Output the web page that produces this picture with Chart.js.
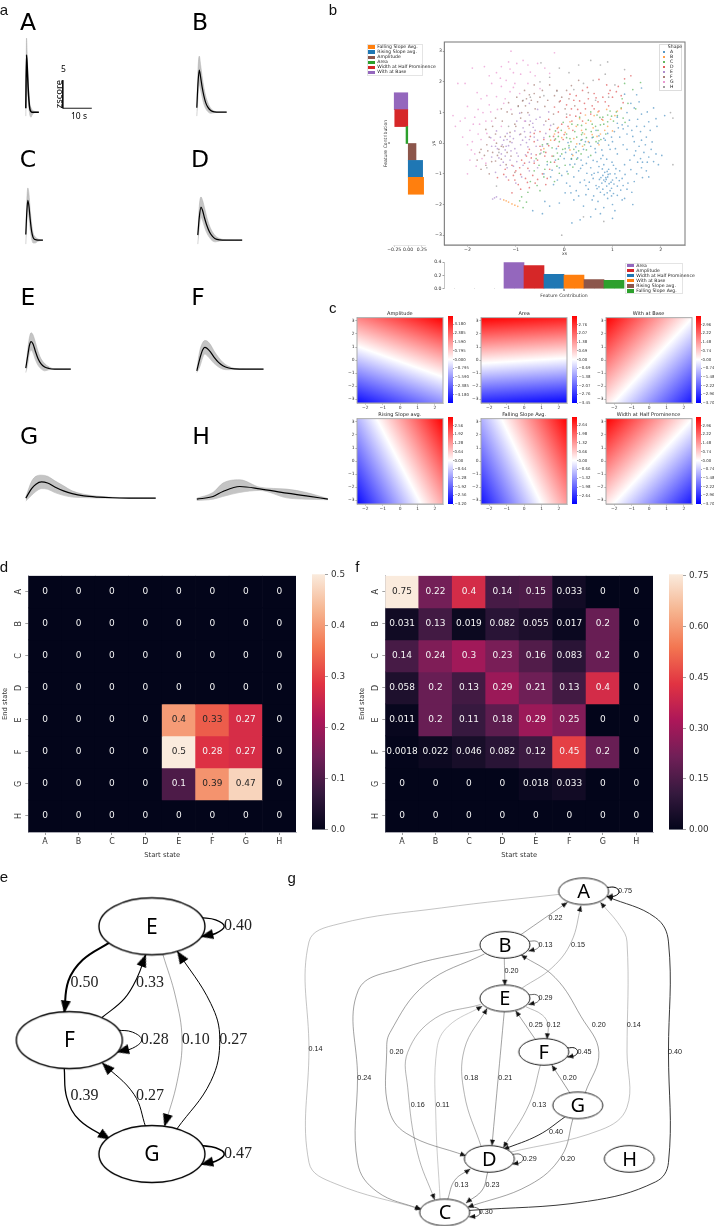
<!DOCTYPE html>
<html>
<head>
<meta charset="utf-8">
<title>Event shapes and transitions</title>
<script src="https://cdn.jsdelivr.net/npm/chart.js@4"></script>
<style>
  html, body { margin: 0; padding: 0; background: #fff; }
  #page { position: relative; width: 714px; height: 1232px; overflow: hidden; background: #fff; }
  #page canvas { position: absolute; }
  .t { position: absolute; white-space: nowrap; line-height: 1; color: #222; }
</style>
</head>
<body>
<div id="page"></div>
<script>
// ---------- data ----------
const stateNames = ['A', 'B', 'C', 'D', 'E', 'F', 'G', 'H'];

// panel a: time (s), mean, upper and lower band (zscore)
const traceT = {
  A: [0, .25, .5, .8, 1.1, 1.4, 1.8, 2.2, 3, 4.5],
  B: [0, .4, .85, 1.3, 1.8, 2.4, 3, 3.8, 4.8, 6, 8, 10.3],
  C: [0, .35, .7, 1.1, 1.5, 2, 2.5, 3.2, 4.2, 5.9],
  D: [0, .5, 1.1, 1.7, 2.3, 3, 4, 5, 6, 7.5, 10, 15.3],
  E: [0, .7, 1.2, 1.83, 2.5, 3.3, 4.2, 5.2, 6.5, 8, 10, 15.5],
  F: [0, 1, 2, 2.75, 3.6, 4.8, 6, 7.5, 9, 11, 13, 17, 23],
  G: [0, 2, 3.5, 5.4, 7.5, 10, 13, 16, 20, 25, 30, 36, 44.8],
  H: [0, 5.6, 9, 14.8, 21.7, 31, 37.7, 45.2]
};
const traceMean = {
  A: [.7, 10.2, 8, 4.5, 2, .6, .1, 0, 0, 0],
  B: [.8, 5, 7.5, 6.3, 4.6, 3, 1.8, .9, .3, .05, 0, 0],
  C: [1, 5, 7.1, 6, 3.8, 1.6, .5, .1, 0, 0],
  D: [.9, 4, 5.9, 5.2, 4, 2.8, 1.5, .7, .25, .05, 0, 0],
  E: [.2, 2.5, 4.1, 4.9, 4.5, 3.2, 1.9, 1, .4, .12, 0, 0],
  F: [-.3, 1.8, 3.4, 3.9, 3.7, 3, 2.1, 1.2, .6, .2, .05, 0, 0],
  G: [0, 1.7, 2.5, 2.9, 2.7, 2, 1.3, .8, .4, .18, .07, .02, 0],
  H: [0, .48, 1.37, 2.26, 1.85, 1.07, .6, 0]
};
const traceUpper = {
  A: [.7, 13.2, 10, 6, 3, 1.4, .8, .4, .15, 0],
  B: [1, 7.5, 10, 8.5, 6.5, 4.5, 3, 1.7, .7, .2, 0, 0],
  C: [1, 7, 9.3, 8.2, 5.5, 3, 1.3, .6, .2, 0],
  D: [1, 6, 7.7, 7, 5.8, 4.3, 2.6, 1.5, .8, .3, .05, 0],
  E: [.3, 3.6, 5.5, 6.5, 6.1, 4.8, 3.2, 1.9, 1, .4, .05, 0],
  F: [0, 3.2, 4.7, 5.1, 5, 4.3, 3.2, 2.1, 1.2, .5, .15, .03, 0],
  G: [.2, 3, 3.9, 4.1, 3.9, 3.1, 2.2, 1.3, .7, .35, .15, .05, 0],
  H: [.18, 1.2, 2.86, 3.45, 2.14, 1.79, 1.2, .1]
};
const traceLower = {
  A: [-.7, 7.5, 5.5, 2.5, .6, -.5, -.9, -.5, -.1, 0],
  B: [-.7, 2.5, 5, 4, 2.8, 1.5, .7, .1, -.2, -.1, 0, 0],
  C: [-.7, 3, 5, 4, 2, .3, -.5, -.5, -.2, 0],
  D: [-.7, 2.2, 4.1, 3.4, 2.4, 1.4, .5, -.1, -.3, -.15, 0, 0],
  E: [-.6, 1, 2.7, 3.4, 2.9, 1.7, .7, .1, -.3, -.1, 0, 0],
  F: [-.6, .4, 2, 2.7, 2.4, 1.7, 1, .4, 0, -.1, -.05, 0, 0],
  G: [-.5, .5, 1.2, 1.7, 1.6, 1, .5, .2, .1, .02, 0, 0, 0],
  H: [-.24, 0, .48, 1.2, 1.55, .24, 0, -.1]
};

// panel b: embedding, hand-sampled from the picture as x,y pairs
const shapeA = [.9,-1.1,.85,-1.25,.95,-1,.8,-1.05,1,-1.2,.88,-1.4,.78,-1.3,1.05,-1,.92,-.85,.7,-.95,.75,-1.6,.95,-1.55,1.1,-1.4,.6,-1.15,.55,-.8,.68,-.6,.82,-.7,1.02,-.72,1.15,-.9,1.2,-1.15,1.25,-.7,1.32,-1.3,1.1,-1.7,.9,-1.8,.7,-1.9,1,-2,1.2,-1.85,.5,-1.5,.42,-1.2,.3,-.9,.2,-1.1,.12,-.7,.35,-.55,.5,-.45,.65,-.3,.8,-.4,.95,-.2,1.1,-.35,1.3,-.2,1.45,-.4,1.55,-.1,1.65,-.3,1.75,-.45,1.8,-.2,1.6,.1,1.7,.2,1.45,.05,1.3,.3,1.15,.2,1,.05,.85,.1,.7,0,.55,-.1,.4,-.2,.25,-.3,.1,-.15,0,-.5,-.1,-.8,.05,-1.3,-.05,-1.05,.25,-1.55,.2,-1.85,-.1,-1.95,.4,-2.05,.75,-2.3,1,-2.45,.65,-2.15,1.4,-1.6,1.5,-1,1.6,-.8,1.85,-.6,1.95,-.7,1.7,-.9,1.2,.6,1.35,.75,1.5,.55,1.6,.95,1.45,1.15,1.3,1,1.1,.85,1.75,.7,1.85,1.15,1.55,1.35,1.25,1.6,1.6,1.8,1.9,.8,.87,-1.18,.93,-1.32,.84,-.95,.73,-1.18,.98,-1.47,1.08,-1.13,.66,-1.38,.61,-1.72,.83,-1.68,1.17,-1.53,1.26,-1.02,1.38,-.86,.47,-.98,.38,-.72,.28,-.48,.16,-.36,.06,-.92,-.18,-.55,-.28,-1.1,-.35,-.7,-.22,-1.35,.14,-1.62,.33,-1.28,1.52,-.62,1.68,-.05,1.82,.04,1.4,.42,1.22,.47,1.04,.38,.9,.32,.72,.24,.58,.18,1.58,.38,.44,.05,.32,-.02,-.4,-1.9,-.65,-2.2,-.45,-2.3,-.3,-2.05,.33,-2.5,
  .91,-1.02,.86,-1.12,.82,-1.2,.76,-1.12,.97,-1.27,1.03,-1.33,.89,-.92,.79,-.84,.72,-.76,.62,-.98,.57,-1.03,.52,-1.27,.45,-1.38,.68,-1.48,.8,-1.5,.89,-1.62,1.02,-1.64,1.14,-1.22,1.22,-1.38,1.07,-.83,.99,-.62,.88,-.52,.76,-.5,.6,-.56,.46,-.66,.34,-.82,.22,-.68,.15,-.52,.03,-.3,-.08,-.42,-.16,-.18,.08,.02,.24,-.12,.37,.12,.52,.02,.64,-.18,.78,-.22,.92,-.06,1.06,-.18,1.22,-.05,1.36,-.55,1.48,-.25,1.58,-.5,1.72,-.62,1.62,-1.12,1.45,-1.25,1.3,-1.5,.58,-1.85,.45,-1.68,.3,-1.72,.12,-1.4,.02,-1.62,-.14,-1.2,-.25,-.88,-.42,-1,1.12,.5,1.32,.56,1.42,.22,1.52,.78,1.66,.55,1.78,.42,1.72,1.02,1.38,1.3,1.5,1.58,1.1,.65,.98,.2,.82,.16,.66,.42,1.9,-.35,2.02,-.4,1.92,.55,2.08,.9,1.62,-.62,1.75,-1.1,1.25,-1.8,1.05,-2.2,.82,-2.1,.55,-2.4,.16,-2.6,1.42,-2,.98,-1.72,.72,-1.42];
const shapeB = [.25,.55,.42,.3,.6,.5,.75,.3,.9,.55,1.05,.9,.2,.15,.02,.35,.5,.05,.32,.8,.62,.9,.8,.75,1,.4,1.1,1.05,-.12,.52,.12,.7,.45,.65,.38,-.1,.72,-.05,-1.25,-1.85,-1.2,-1.88,-1.15,-1.92,-1.08,-1.98,-1.02,-2.02,-.96,-2.06,.88,1.1,-.28,.1,.18,-.4,.55,.72,.36,.42,.68,.22,.84,.42,.96,.78,1.18,1.12,.1,.48,-.05,.18,.26,-.02,.58,.28,.44,.92,.7,1.02,-.2,.3,-.42,-.18,.12,-.22];
const shapeC = [.2,-.2,.35,.1,-.1,.05,.05,.3,.45,.45,.65,.55,.8,.85,.95,1.05,1.1,.9,.5,.75,.28,.6,.15,-.5,-.05,-.35,-.25,-.15,-.35,-.6,-.5,-.35,-.15,-.75,.08,-1,.35,-.35,.6,.2,.75,.6,.9,.7,1.02,.72,1.18,1.15,1.32,1.3,1.42,1.75,1.58,1.98,1.25,1.95,.55,1.02,.32,.85,-.02,.68,-.18,.4,-.3,.22,-.45,-.05,-.58,-.5,-.62,-.9,-.42,-1.1,-.2,-1.25,-.75,-1.6,-.88,-1.75,-.85,-2.1,-.5,-1.55,.12,.15,.42,-.05,.55,-.4,.72,.08,.18,-.78,.38,.34,.02,-.18,-.12,.22,.68,.92,1.2,1.45,1.48,1.12,-.78,-1.92,-.92,-1.88,
  .14,.05,.26,.2,.36,.28,.46,.18,.56,.38,.7,.42,.82,.62,.98,.88,1.08,1.02,1.22,.82,.22,.38,.1,-.08,-.03,-.2,-.14,-.32,-.22,-.42,-.34,-.02,-.42,-.28,-.28,-.62,-.12,-.52,.02,-.72,.26,-.52,.46,-.22,.66,.05,.76,.12,.86,.3,.58,.62,.36,.58,.16,.62,-.06,.42,-.18,.14,-.52,-.72,-.4,-.85,-.7,-1.25,-.56,-1.38,-.1,-.98,.05,.18,.3,-.25,.74,.84,.9,.92,1.26,.68];
const shapeD = [-.2,.1,-.38,-.3,-.55,-.55,-.72,-.2,-.88,-.55,-.75,-.82,-1,-.9,-1.15,-1.2,-.95,-1.35,-.8,-1.15,-.65,-1.05,-.45,-1,-.3,-.85,-.12,.35,-.3,.45,-.05,.62,.12,.92,.28,1.1,.05,1.25,.2,1.4,.42,1.3,.58,1.22,.72,1.05,.85,1.35,1,1.5,.62,1.62,.38,1.72,.25,1.55,.05,.85,-.12,1.02,-.42,.12,-.62,.05,-.78,-.42,-.62,-.65,-.48,-.22,-.25,-.42,-.12,-.1,0,.28,.18,.42,.38,.72,.55,.95,.78,.78,.92,1.22,1.08,1.68,1.22,1.32,1.38,2.2,1.25,2.1,.88,1.9,.72,2.08,-1.05,-1.05,-1.22,-.85,-1.38,-1.12,-.9,-1.5,-.72,-1.45,-.6,-1.3,-.38,-1.35,-1.08,-1.62,.5,1.45,.32,1.38,.15,1.12,-.32,.78,-.5,.38,-.7,.22,
  -.75,-.3,-.68,-.48,-.82,-.65,-.92,-.8,-1.08,-.72,-.58,-.38,-.5,-.1,-.4,-.42,-.32,-.08,-.22,.22,-.14,.48,-.02,.12,.08,.55,.16,.72,.24,.88,.34,.98,.44,1.12,.62,1.12,.7,1.35,.8,1.5,.95,1.72,.48,1.82,.12,1.6,-.08,1.38,-.2,1.18,-.9,-1.02,-.76,-1.28,-.55,-1.18,-.35,-1.15,-.2,-.62,-1.25,-1.02,-1.02,-1.2,-.62,.32,.66,1.48,.92,1.62,1.12,1.85,1.18,1.55];
const shapeE = [-1.2,-.1,-1.1,-.25,-1.3,-.35,-1.25,.1,-1.05,.15,-.9,-.05,-.8,.2,-.7,.35,-.55,.1,-.45,-.1,-.68,-.35,-.95,-.42,-1.12,-.55,-1.32,-.72,-1.42,-.95,-1.2,-1.1,-1,-1.3,-.88,-1.1,-.72,-.9,-.55,-.8,-1.02,.4,-.85,.5,-.65,.65,-.5,.85,-.32,1.02,-.55,1.1,-.72,1.3,-.92,.98,-.98,.72,-1.5,-.1,-1.52,.18,-1.4,.4,-1.18,.32,-.38,.32,-.28,.58,-.85,-.72,-.62,-.58,-1.5,-.45,-.48,-.32,-1.05,-.75,-1.38,-.18,-1.48,-1.82,-1.44,-1.78,-1.4,-1.75,-1.32,-1.82,-.75,-.12,-.6,.42,-.42,.6,
  -1.28,-.05,-1.22,-.22,-1.15,-.08,-1.08,.02,-1.18,.12,-1.32,.2,-1.42,-.1,-1.02,-.18,-.98,-.32,-.86,.1,-.78,.02,-.72,.12,-.62,.2,-.58,-.1,-.82,.38,-.92,.28,-1.12,.22,-1.35,-.48,-1.26,-.62,-1.18,-.8,-.98,-.6,-.8,-.38,-.72,-.62,-.42,.18,-.36,-.02,-.64,.52,-.8,.72,-.72,.92,-.58,.78,-.7,.72,-1.22,-.42];
const shapeF = [-1.4,0,-1.35,-.2,-1.55,.2,-1.6,-.05,-1.65,-.4,-1.5,-.6,-1.3,-.52,-1.1,-.42,-1.22,.22,-1,.55,-.9,.82,-.75,1,-.55,1.35,-.4,1.2,-.62,1.62,-.45,1.72,-.2,1.55,-.1,1.35,.05,1.72,.15,1.88,-.78,1.45,-.95,1.22,-1.08,.95,-1.28,.72,-.3,1.9,-.6,1.12,-1.72,-.2,-1.8,-.55,-1.72,-.85,-1.55,-1,-1.42,-.58,-1.2,-.7,-1.02,-.95,-1.62,.45,-1.48,.55,-1.42,.82,-1.18,1.02,-.82,1.72,-.62,1.9,.02,1.12,.22,1.22,-.22,.95,-.38,.72,-.9,.3,-.72,.6,-1.12,.05,-1.26,-.12,-1.18,-.3,-1.42,.3,
  -1.58,-.25,-1.48,-.3,-1.38,-.4,-1.3,-.1,-1.12,.35,-1.02,.62,-.88,1,-.8,1.22,-.68,1.4,-.5,1.5,-.34,1.4,-.15,1.72,-.05,1.5,.1,1.45,-.72,1.58,-.86,1.38,-.98,1.5,-1.15,1.32,-1.3,1.12,.3,2.05,.5,1.65,-1.62,-.72,-1.75,-.3];
const shapeG = [-2.3,.9,-2.15,.72,-2,1.2,-1.85,.85,-1.95,.42,-2.1,.2,-2,-.05,-1.85,-.35,-1.9,.05,-1.75,.62,-1.68,1,-1.55,1.25,-1.72,1.45,-1.4,1.52,-1.3,1.85,-1.5,1.95,-1.2,2.05,-1.05,2.3,-1.3,2.5,-1.15,2.65,-.9,2.25,-.75,2.55,-.55,2.6,-1.9,2.45,-1.65,2.5,-2.05,1.95,-1.4,2.3,-1.5,.72,-1.6,.32,-1.72,.12,-2.25,.55,-2.2,1.95,-.2,2.95,-1.1,3,-.85,2.7,-.4,2.45,-.6,2.2,-1.02,1.95,-.92,1.62,-1.25,1.3,-1.1,1.1,-1.82,-.75,-1.95,-.55,-2,-1,-1.62,-.65,-1.45,.1,-1.3,.55,-1.8,1.65,-1.12,1.68,-.75,1.95,-.5,1.78,-.82,.72,-.3,2.28,-1.55,2.2,
  -1.78,.3,-1.88,.62,-1.62,.72,-1.52,1.02,-1.6,1.55,-1.38,1.1,-1.22,1.45,-1.05,1.82,-1.32,2.12,-1.12,2.42,-.98,2.6,-.7,2.32,-1.78,1.1,-2.05,.82,-1.92,-.22,-1.7,-.5];
const shapeH = [-.5,2,-.3,2.15,-.1,2.45,.1,2.3,.3,2.55,.55,2.7,.75,2.55,.9,2.65,.4,1.95,.2,1.75,-.15,1.7,-.42,1.55,.6,2.05,.85,2.25,1.05,1.9,1.25,2.4,-.7,1.5,-.85,1.4,-.95,1.2,-1.15,.55,-1.35,-.3,-1.6,-.8,-.05,-3,.4,-2.4,2.2,1,2.25,.82,2.25,-.7,.05,.95,-.22,.62,.65,1.4,.92,1.5,-.48,2.62,-1.4,-1.4,.82,-2.55];

// heatmap d/f matrices, rows = end state, columns = start state
const matrixD = [
  [0, 0, 0, 0, 0, 0, 0, 0],
  [0, 0, 0, 0, 0, 0, 0, 0],
  [0, 0, 0, 0, 0, 0, 0, 0],
  [0, 0, 0, 0, 0, 0, 0, 0],
  [0, 0, 0, 0, .4, .33, .27, 0],
  [0, 0, 0, 0, .5, .28, .27, 0],
  [0, 0, 0, 0, .1, .39, .47, 0],
  [0, 0, 0, 0, 0, 0, 0, 0]
];
const matrixF = [
  [.75, .22, .4, .14, .15, .033, 0, 0],
  [.031, .13, .019, .082, .055, .017, .2, 0],
  [.14, .24, .3, .23, .16, .083, .2, 0],
  [.058, .2, .13, .29, .21, .13, .4, 0],
  [.011, .2, .11, .18, .29, .25, 0, 0],
  [.0018, .022, .046, .082, .12, .45, .2, 0],
  [0, 0, 0, 0, .018, .033, 0, 0],
  [0, 0, 0, 0, 0, 0, 0, 0]
];

// feature contributions
const leftBarNames = ['With at Base', 'Width at Half Prominence', 'Area', 'Amplitude', 'Rising Slope avg.', 'Falling Slope Avg.'];
const leftBarValues = [-.25, -.24, -.036, .145, .265, .283];
const leftBarColors = ['#9467bd', '#d62728', '#2ca02c', '#8c564b', '#1f77b4', '#ff7f0e'];
const bottomBarNames = ['Area', 'Amplitude', 'Width at Half Prominence', 'With at Base', 'Rising Slope avg.', 'Falling Slope Avg.'];
const bottomBarValues = [.39, .345, .215, .205, .135, .125];
const bottomBarColors = ['#9467bd', '#d62728', '#1f77b4', '#ff7f0e', '#8c564b', '#2ca02c'];

// panel c: title, zero line (two points), a point on the red side, colourbar range and ticks
const fieldTitles = ['Amplitude', 'Area', 'With at Base', 'Rising Slope avg.', 'Falling Slope Avg.', 'Width at Half Prominence'];
const fieldZero = [
  [[-2.48, 1.06], [2.46, -1.29]],
  [[-2.48, -.25], [2.46, .15]],
  [[-2.06, -3.28], [2.46, 3.2]],
  [[-1.35, 3.25], [1.2, -3.28]],
  [[-1.3, 3.25], [1, -3.28]],
  [[-2.06, -3.28], [2.46, 3.2]]
];
const fieldHot = [[2, 3], [0, 3], [-2, 3], [2, 3], [2, 3], [-2, 3]];
const fieldMax = [3.94, 3.45, 3.7, 3.2, 3.25, 3.7];
const fieldTicks = [
  [3.18, 2.385, 1.59, .795, 0, -.795, -1.59, -2.385, -3.18],
  [2.76, 2.07, 1.38, .69, 0, -.69, -1.38, -2.07, -2.76, -3.45],
  [2.96, 2.22, 1.48, .74, 0, -.74, -1.48, -2.22, -2.96, -3.7],
  [2.56, 1.92, 1.28, .64, 0, -.64, -1.28, -1.92, -2.56, -3.2],
  [2.64, 1.98, 1.32, .66, 0, -.66, -1.32, -1.98, -2.64],
  [2.96, 2.22, 1.48, .74, 0, -.74, -1.48, -2.22, -2.96, -3.7]
];
const fieldDecimals = [3, 2, 2, 2, 2, 2];

// panel e: graph drawn in a 900 x 1326 layout space
const graphENodes = [['E', 456, 403], ['F', 198, 753], ['G', 456, 1105]];
const graphEEdges = [
  { w: 2, c: '#000', p: [[323, 452], [240, 505], [195, 570], [182, 670]] },
  { w: 1.1, c: '#000', p: [[300, 683], [370, 625], [410, 560], [437, 488]] },
  { w: .5, c: '#555', p: [[490, 488], [530, 620], [550, 750], [535, 880], [495, 1020]] },
  { w: 1, c: '#000', p: [[533, 1028], [640, 880], [668, 750], [640, 640], [535, 478]] },
  { w: 1.3, c: '#000', p: [[182, 840], [190, 930], [230, 1000], [327, 1060]] },
  { w: 1, c: '#000', p: [[437, 1022], [400, 920], [300, 822]] },
  { w: 1.4, c: '#000', p: [[608, 375], [655, 382], [682, 402], [655, 424], [608, 434]] },
  { w: 1, c: '#000', p: [[347, 722], [395, 728], [424, 752], [395, 778], [345, 790]] },
  { w: 1.6, c: '#000', p: [[608, 1078], [655, 1085], [682, 1104], [655, 1126], [608, 1136]] }
];
const graphELabels = [
  ['0.40', 725, 400], ['0.50', 245, 575], ['0.33', 450, 575], ['0.28', 465, 752], ['0.10', 593, 752],
  ['0.27', 710, 752], ['0.39', 245, 926], ['0.27', 450, 926], ['0.47', 725, 1102]
];

// panel g: graph drawn in a 1272 x 1326 layout space
const graphGNodes = [['A', 888, 295], ['B', 645, 460], ['E', 645, 625], ['F', 765, 790], ['G', 870, 955], ['D', 597, 1120], ['H', 1030, 1120], ['C', 460, 1285]];
const graphGEdges = [
  { w: .5, c: '#888', p: [[815, 303], [450, 345], [130, 395], [40, 450], [40, 780], [40, 1130], [120, 1195], [388, 1275]] },
  { w: 1, c: '#000', p: [[960, 282], [985, 282], [998, 295], [985, 308], [960, 310]] },
  { w: .9, c: '#222', p: [[535, 1278], [900, 1250], [1110, 1190], [1150, 1130], [1150, 790], [1150, 450], [1110, 375], [960, 310]] },
  { w: .5, c: '#444', p: [[695, 427], [838, 328]] },
  { w: .5, c: '#777', p: [[698, 592], [790, 530], [850, 450], [880, 338]] },
  { w: .5, c: '#888', p: [[655, 1100], [940, 1030], [1022, 960], [1022, 790], [1022, 450], [1000, 400], [940, 328]] },
  { w: .6, c: '#333', p: [[720, 448], [742, 448], [752, 460], [742, 472], [718, 478]] },
  { w: .5, c: '#555', p: [[643, 500], [645, 585]] },
  { w: .5, c: '#444', p: [[582, 487], [400, 580], [290, 730], [280, 790], [285, 960], [340, 1040], [525, 1110]] },
  { w: .5, c: '#444', p: [[570, 473], [330, 530], [192, 600], [190, 870], [190, 1130], [250, 1220], [385, 1275]] },
  { w: .7, c: '#222', p: [[720, 613], [742, 613], [752, 625], [742, 637], [718, 643]] },
  { w: .5, c: '#777', p: [[710, 650], [760, 675], [778, 705], [775, 750]] },
  { w: .5, c: '#444', p: [[740, 752], [678, 662]] },
  { w: .5, c: '#444', p: [[643, 665], [605, 1078]] },
  { w: .5, c: '#666', p: [[572, 1082], [520, 920], [520, 780], [590, 655]] },
  { w: .5, c: '#999', p: [[445, 1245], [432, 1000], [435, 780], [470, 710], [575, 648]] },
  { w: .5, c: '#666', p: [[570, 643], [430, 685], [345, 790], [345, 900], [375, 1100], [428, 1245]] },
  { w: 1, c: '#111', p: [[838, 777], [860, 777], [870, 789], [860, 801], [838, 805]] },
  { w: .5, c: '#666', p: [[755, 828], [720, 950], [640, 1085]] },
  { w: .5, c: '#333', p: [[845, 915], [790, 830]] },
  { w: .5, c: '#444', p: [[893, 915], [935, 790], [880, 680], [800, 560], [695, 490]] },
  { w: .9, c: '#111', p: [[830, 990], [750, 1045], [640, 1090]] },
  { w: .5, c: '#444', p: [[855, 995], [820, 1110], [720, 1200], [530, 1268]] },
  { w: .7, c: '#222', p: [[668, 1105], [692, 1105], [702, 1118], [692, 1131], [668, 1135]] },
  { w: .5, c: '#333', p: [[592, 1160], [575, 1215], [525, 1255]] },
  { w: .5, c: '#444', p: [[468, 1245], [490, 1185], [538, 1150]] },
  { w: .7, c: '#222', p: [[535, 1268], [558, 1270], [570, 1283], [558, 1296], [535, 1298]] }
];
const graphGLabels = [
  ['0.75', 1016, 294], ['0.22', 801, 377], ['0.13', 770, 459], ['0.15', 871, 459], ['0.20', 665, 541], ['0.29', 770, 624],
  ['0.25', 740, 706], ['0.12', 795, 706], ['0.20', 935, 706], ['0.14', 1043, 706], ['0.14', 60, 780], ['0.20', 310, 789],
  ['0.45', 891, 789], ['0.40', 1170, 789], ['0.24', 211, 870], ['0.18', 541, 870], ['0.21', 646, 870], ['0.20', 845, 871],
  ['0.16', 376, 954], ['0.11', 453, 954], ['0.13', 751, 954], ['0.40', 803, 1035], ['0.29', 722, 1118], ['0.20', 840, 1118],
  ['0.13', 511, 1200], ['0.23', 607, 1200], ['0.30', 586, 1283]
];

// ---------- helpers ----------
const page = document.getElementById('page');
const sans = 'DejaVu Sans';
Chart.defaults.font.family = sans;
Chart.defaults.animation = false;
Chart.defaults.responsive = false;
Chart.defaults.plugins.legend.display = false;
Chart.defaults.plugins.tooltip.enabled = false;

function txt(str, x, y, size, opts) {
  opts = opts || {};
  const d = document.createElement('div');
  d.className = 't';
  d.textContent = str;
  d.style.left = x + 'px';
  d.style.top = y + 'px';
  d.style.fontSize = size + 'px';
  d.style.fontFamily = opts.family || sans;
  if (opts.color) d.style.color = opts.color;
  const dx = opts.left ? '0' : '-50%';
  d.style.transform = 'translate(' + dx + ',-50%)' + (opts.rotate ? ' rotate(' + opts.rotate + 'deg)' : '');
  page.appendChild(d);
}

function box(x, y, w, h, color, border) {
  const d = document.createElement('div');
  d.style.cssText = 'position:absolute;left:' + x + 'px;top:' + y + 'px;width:' + w + 'px;height:' + h + 'px;box-sizing:border-box;'
    + (color ? 'background:' + color + ';' : '') + (border ? 'border:.5px solid ' + border + ';' : '');
  page.appendChild(d);
}

// rect is the plot area on the page; m the room around it, sides listed in axes are taken by the scales
function place(rect, m, axes, config) {
  const c = document.createElement('canvas');
  c.width = Math.ceil(rect.w + m.l + m.r);
  c.height = Math.ceil(rect.h + m.t + m.b);
  c.style.left = (rect.x - m.l) + 'px';
  c.style.top = (rect.y - m.t) + 'px';
  page.appendChild(c);
  config.options = config.options || {};
  config.options.layout = { padding: {
    left: axes.includes('l') ? 0 : m.l, right: axes.includes('r') ? 0 : m.r,
    top: axes.includes('t') ? 0 : m.t, bottom: axes.includes('b') ? 0 : m.b
  } };
  return new Chart(c, config);
}

function axis(o) {
  const tickOpts = Object.assign({ autoSkip: false, padding: o.pad === undefined ? 1 : o.pad, color: o.color || '#333', font: { size: o.font },
    maxRotation: 0, display: o.hideTicks ? false : true }, o.tickOpts || {});
  if (o.fmt) tickOpts.callback = o.fmt;
  return {
    type: o.type || 'linear',
    position: o.pos,
    min: o.min,
    max: o.max,
    offset: o.offset,
    afterBuildTicks: o.ticks ? s => { s.ticks = o.ticks.map(v => ({ value: v })); } : undefined,
    afterFit: s => { if (s.isHorizontal()) s.height = o.fit; else s.width = o.fit; },
    ticks: tickOpts,
    grid: { drawOnChartArea: false, tickLength: o.tl === undefined ? 1.5 : o.tl, lineWidth: .5, color: '#444', offset: false },
    border: { display: o.border !== false, color: o.borderColor || '#888', width: .5 },
    title: o.title ? { display: true, text: o.title, font: { size: o.titleSize || o.font }, padding: { top: o.titlePad || 0, bottom: 0 }, color: '#333' } : { display: false }
  };
}

const minus = (v, d) => (v < 0 ? '\u2212' : '') + Math.abs(v).toFixed(d);

const framePlugin = color => ({
  id: 'frame',
  afterDatasetsDraw(chart) {
    const a = chart.chartArea, g = chart.ctx;
    g.save();
    g.strokeStyle = color;
    g.lineWidth = 1;
    g.strokeRect(a.left, a.top, a.width, a.height);
    g.restore();
  }
});

// ---------- panel a ----------
const zPerPx = 1 / 5.6, sPerPx = 1 / 2.9;
const tracePlace = {
  A: [26, 112], B: [197, 112], C: [26, 240], D: [197.5, 240],
  E: [26, 368.6], F: [197, 369], G: [26, 498], H: [197, 499.3]
};
function traceChart(name) {
  const [x0, base] = tracePlace[name];
  const pts = arr => arr.map((v, i) => ({ x: traceT[name][i], y: v }));
  const sets = [
    { data: pts(traceMean[name]), borderColor: '#000', borderWidth: name === 'A' ? 1.5 : 1.2, fill: false, order: 0 },
    { data: pts(traceUpper[name]), borderColor: '#aaa', borderWidth: .5, backgroundColor: '#c4c4c4', fill: '+1', order: 2 },
    { data: pts(traceLower[name]), borderColor: '#aaa', borderWidth: .5, fill: false, order: 3 }
  ];
  if (name === 'A') {
    // scale bar: 10 s and 5 zscore in the same units as the traces
    sets.push({ data: [{ x: 12.76, y: 5.7 }, { x: 12.76, y: .7 }, { x: 22.76, y: .7 }], borderColor: '#000', borderWidth: .9, fill: false, tension: 0, cubicInterpolationMode: 'default', order: 1 });
  }
  const w = 140, h = 100.8;
  place({ x: x0 - 2 / sPerPx, y: base - 15 / zPerPx, w: w, h: h }, { l: 0, r: 0, t: 0, b: 0 }, '', {
    type: 'scatter',
    data: { datasets: sets },
    options: {
      showLine: true,
      elements: { point: { radius: 0 }, line: { cubicInterpolationMode: 'monotone' } },
      scales: {
        x: { display: false, min: -2, max: -2 + w * sPerPx },
        y: { display: false, min: -3, max: 15 }
      }
    }
  });
}
stateNames.forEach(traceChart);
const stateLabelPlace = { A: [28, 23], B: [200, 23], C: [28, 160], D: [200, 160], E: [28, 298], F: [198, 298], G: [29, 437], H: [201, 437] };
stateNames.forEach(n => txt(n, stateLabelPlace[n][0], stateLabelPlace[n][1], 23.5, { color: '#000' }));
txt('5', 63.5, 68.5, 8.5, { color: '#000', family: 'Noto Sans' });
txt('zscore', 58.5, 94, 9.5, { color: '#000', family: 'Noto Sans', rotate: -90 });
txt('10 s', 79, 115.5, 8.5, { color: '#000', family: 'Noto Sans' });

// ---------- panel b ----------
const shapeSeries = [
  [shapeA, '31,119,180'], [shapeB, '255,127,14'], [shapeC, '44,160,44'], [shapeD, '214,39,40'],
  [shapeE, '148,103,189'], [shapeF, '140,86,75'], [shapeG, '227,119,194'], [shapeH, '127,127,127']
];
function pairs(flat) {
  const out = [];
  for (let i = 0; i < flat.length; i += 2) out.push({ x: flat[i], y: flat[i + 1] });
  return out;
}
place({ x: 444.3, y: 42.3, w: 240, h: 202.7 }, { l: 13.3, r: 4, t: 4, b: 12 }, 'lb', {
  type: 'scatter',
  data: { datasets: shapeSeries.map(s => ({ data: pairs(s[0]), backgroundColor: 'rgba(' + s[1] + ',.55)', borderWidth: 0, pointRadius: .85 })) },
  options: {
    scales: {
      x: axis({ min: -2.48, max: 2.5, ticks: [-2, -1, 0, 1, 2], fit: 12, font: 4.6, fmt: v => minus(v, 0), title: 'xs', pos: 'bottom' }),
      y: axis({ min: -3.32, max: 3.3, ticks: [-3, -2, -1, 0, 1, 2, 3], fit: 13.3, font: 4.6, fmt: v => minus(v, 0), title: 'ys', pos: 'left' })
    }
  },
  plugins: [framePlugin('#777')]
});
box(659.3, 44, 23, 47.3, '#fff', '#ddd');
txt('Shape', 675, 47.3, 4.6);
stateNames.forEach((n, i) => {
  const d = document.createElement('div');
  d.style.cssText = 'position:absolute;width:2.4px;height:2.4px;border-radius:50%;left:662.8px;top:' + (51.1 + i * 5) + 'px;background:rgb(' + shapeSeries[i][1] + ')';
  page.appendChild(d);
  txt(n, 670, 52.3 + i * 5, 4.6, { left: true });
});

// left bars sit in the middle six of twelve bands
const pad3 = ['', '', ''];
place({ x: 393, y: 42.3, w: 32, h: 202.7 }, { l: 10, r: 4, t: 2, b: 10 }, 'lb', {
  type: 'bar',
  data: {
    labels: pad3.concat(leftBarNames, pad3),
    datasets: [{ data: [null, null, null].concat(leftBarValues, [null, null, null]), backgroundColor: pad3.concat(leftBarColors, pad3), barPercentage: 1, categoryPercentage: 1, borderWidth: 0 }]
  },
  options: {
    indexAxis: 'y',
    scales: {
      x: axis({ min: -.272, max: .308, ticks: [-.25, 0, .25], fit: 10, font: 4.6, fmt: v => minus(v, 2), pos: 'bottom', borderColor: '#ccc' }),
      y: axis({ type: 'category', offset: true, fit: 10, font: 4.6, hideTicks: true, title: 'Feature Contribution', border: false, tl: 0, pos: 'left' })
    }
  }
});
box(366.7, 44, 56.6, 32, '#fff', '#e4e4e4');
leftBarNames.slice().reverse().forEach((n, i) => {
  box(367.7, 45.4 + i * 5.07, 7, 3.2, leftBarColors[5 - i]);
  txt(n, 377.3, 47 + i * 5.07, 4.6, { left: true });
});
txt('x', 389, 143.7, 3.6);

place({ x: 444.3, y: 261.7, w: 240, h: 26.6 }, { l: 13, r: 4, t: 4, b: 10.3 }, 'lb', {
  type: 'bar',
  data: {
    labels: pad3.concat(bottomBarNames, pad3),
    datasets: [{ data: [null, null, null].concat(bottomBarValues, [null, null, null]), backgroundColor: pad3.concat(bottomBarColors, pad3), barPercentage: 1, categoryPercentage: 1, borderWidth: 0 }]
  },
  options: {
    scales: {
      x: axis({ type: 'category', offset: true, fit: 10.3, font: 4.6, hideTicks: true, title: 'Feature Contribution', border: false, tl: 0, pos: 'bottom' }),
      y: axis({ min: 0, max: .4, ticks: [0, .2, .4], fit: 13, font: 4.6, fmt: v => v.toFixed(1), pos: 'left' })
    }
  }
});
box(625.3, 263.3, 57.4, 31, '#fff', '#e4e4e4');
bottomBarNames.forEach((n, i) => {
  box(626.7, 264.1 + i * 5.07, 7.3, 3.2, bottomBarColors[i]);
  txt(n, 636.3, 265.7 + i * 5.07, 4.6, { left: true });
});
txt('x', 564, 290.5, 3.6);

// ---------- panel c ----------
const fieldCols = [357, 481.3, 605.7];
const fieldRows = [316, 417.3];
const barCols = [448, 572, 696.3];
const bwr = ['#0000ff', '#ffffff', '#ff0000'];

function fieldFill(i) {
  return ctx => {
    const ch = ctx.chart, a = ch.chartArea;
    if (!a) return '#fff';
    const xs = ch.scales.x, ys = ch.scales.y;
    const toPx = p => [xs.getPixelForValue(p[0]), ys.getPixelForValue(p[1])];
    const p1 = toPx(fieldZero[i][0]), p2 = toPx(fieldZero[i][1]), hot = toPx(fieldHot[i]);
    let dx = p2[0] - p1[0], dy = p2[1] - p1[1];
    const len = Math.hypot(dx, dy);
    let nx = -dy / len, ny = dx / len;
    if ((hot[0] - p1[0]) * nx + (hot[1] - p1[1]) * ny < 0) { nx = -nx; ny = -ny; }
    const corners = [[a.left, a.top], [a.right, a.top], [a.left, a.bottom], [a.right, a.bottom]];
    const reach = Math.max(...corners.map(c => Math.abs((c[0] - p1[0]) * nx + (c[1] - p1[1]) * ny)));
    const g = ch.ctx.createLinearGradient(p1[0] - reach * nx, p1[1] - reach * ny, p1[0] + reach * nx, p1[1] + reach * ny);
    bwr.forEach((c, k) => g.addColorStop(k / 2, c));
    return g;
  };
}

function colorbar(rect, m, lo, hi, ticks, fmt, stops, font, tl) {
  place(rect, m, 'r', {
    type: 'bar',
    data: { labels: [''], datasets: [{
      data: [[lo, hi]],
      barPercentage: 1, categoryPercentage: 1, borderWidth: 0, borderSkipped: false,
      backgroundColor: ctx => {
        const a = ctx.chart.chartArea;
        if (!a) return '#fff';
        const g = ctx.chart.ctx.createLinearGradient(0, a.bottom, 0, a.top);
        stops.forEach((c, k) => g.addColorStop(k / (stops.length - 1), c));
        return g;
      }
    }] },
    options: { scales: {
      x: { display: false },
      y: axis({ min: lo, max: hi, ticks: ticks, fit: m.r, font: font, fmt: fmt, pos: 'right', border: false, tl: tl, pad: tl > 2 ? 3 : .5 })
    } }
  });
}

fieldTitles.forEach((title, i) => {
  const col = i % 3, row = Math.floor(i / 3);
  const rect = { x: fieldCols[col], y: fieldRows[row], w: 85.7, h: 86.2 };
  place(rect, { l: 12, r: 2, t: 2, b: 9 }, 'lb', {
    type: 'scatter',
    data: { datasets: [{ data: [{ x: -2.48, y: 3.25 }, { x: 2.46, y: 3.25 }], showLine: true, fill: 'start', pointRadius: 0, borderWidth: 0, backgroundColor: fieldFill(i) }] },
    options: { scales: {
      x: axis({ min: -2.48, max: 2.46, ticks: [-2, -1, 0, 1, 2], fit: 9, font: 4.4, fmt: v => minus(v, 0), pos: 'bottom' }),
      y: axis({ min: -3.28, max: 3.25, ticks: [-3, -2, -1, 0, 1, 2, 3], fit: 12, font: 4.4, fmt: v => minus(v, 0), pos: 'left' })
    } },
    plugins: [framePlugin('#aaa')]
  });
  txt(title, rect.x + rect.w / 2, rect.y - 3.5, 5);
  const d = fieldDecimals[i];
  colorbar({ x: barCols[col], y: rect.y, w: 4.4, h: rect.h }, { l: 0, r: 18, t: 4, b: 4 }, -fieldMax[i], fieldMax[i], fieldTicks[i], v => minus(v, d), bwr, 3.9, 1);
});

// ---------- panels d and f ----------
const rocketStops = ['#03051a', '#35193e', '#701f57', '#ad1759', '#e13342', '#f37651', '#f6b48f', '#faebdd'];
const hex = s => [1, 3, 5].map(i => parseInt(s.substr(i, 2), 16));
function rocket(t) {
  const f = Math.min(.9999, Math.max(0, t)) * (rocketStops.length - 1);
  const i = Math.floor(f), a = hex(rocketStops[i]), b = hex(rocketStops[i + 1]);
  const c = a.map((v, k) => Math.round(v + (b[k] - v) * (f - i)));
  return 'rgb(' + c.join(',') + ')';
}

function heatmap(rect, matrix, top) {
  place(rect, { l: 28.3, r: 4, t: 4, b: 27 }, 'lb', {
    type: 'bar',
    data: {
      labels: stateNames,
      datasets: matrix.map((row, i) => ({
        data: row.map(() => [7 - i, 8 - i]),
        backgroundColor: row.map(v => rocket(v / top)),
        barPercentage: 1, categoryPercentage: 1, grouped: false, borderWidth: 0
      }))
    },
    options: { scales: {
      x: axis({ type: 'category', offset: true, fit: 27, font: 8, tl: 3, pad: 2, fmt: (v, i) => stateNames[i], title: 'Start state', titleSize: 6.8, titlePad: 1, pos: 'bottom', borderColor: '#556' }),
      y: axis({ min: 0, max: 8, ticks: [7.5, 6.5, 5.5, 4.5, 3.5, 2.5, 1.5, .5], fit: 28.3, font: 8, tl: 3, pad: 3,
        fmt: v => stateNames[7.5 - v], title: 'End state', titleSize: 6.8, titlePad: 1, pos: 'left', borderColor: '#556',
        tickOpts: { minRotation: 90, maxRotation: 90, crossAlign: 'center' } })
    } },
    plugins: [{
      id: 'cellText',
      afterDatasetsDraw(chart) {
        const g = chart.ctx, xs = chart.scales.x, ys = chart.scales.y;
        g.save();
        g.font = '9px ' + sans;
        g.textAlign = 'center';
        g.textBaseline = 'middle';
        matrix.forEach((row, i) => row.forEach((v, j) => {
          g.fillStyle = v / top > .62 ? '#262626' : '#f5f5f5';
          g.fillText(String(v), xs.getPixelForValue(j), ys.getPixelForValue(7.5 - i));
        }));
        g.restore();
      }
    }]
  });
}
heatmap({ x: 28.3, y: 572.3, w: 267, h: 260 }, matrixD, .5);
colorbar({ x: 312.3, y: 572.3, w: 12.7, h: 260 }, { l: 0, r: 26, t: 6, b: 6 }, 0, .5, [0, .1, .2, .3, .4, .5], v => v.toFixed(1), rocketStops, 8.8, 3);
heatmap({ x: 385.7, y: 572.3, w: 267.3, h: 260 }, matrixF, .75);
colorbar({ x: 669.3, y: 572.3, w: 13.4, h: 260 }, { l: 0, r: 30, t: 6, b: 6 }, 0, .755, [0, .15, .3, .45, .6, .75], v => v.toFixed(2), rocketStops, 8.8, 3);

// ---------- panels e and g ----------
const evenUp = v => { const n = Math.ceil(v); return n % 2 ? n + 1 : n; };
function ellipseImage(rx, ry, lw) {
  const c = document.createElement('canvas');
  c.width = evenUp(2 * rx + 4);
  c.height = evenUp(2 * ry + 4);
  const g = c.getContext('2d');
  g.beginPath();
  g.ellipse(c.width / 2, c.height / 2, rx, ry, 0, 0, 2 * Math.PI);
  g.fillStyle = '#fff';
  g.fill();
  g.lineWidth = lw;
  g.strokeStyle = '#000';
  g.stroke();
  return c;
}
function arrowImage(len, wid, color) {
  const c = document.createElement('canvas');
  c.width = Math.ceil(len);
  c.height = Math.ceil(wid);
  const g = c.getContext('2d');
  g.beginPath();
  g.moveTo(0, 0);
  g.lineTo(c.width, c.height / 2);
  g.lineTo(0, c.height);
  g.closePath();
  g.fillStyle = color;
  g.fill();
  return c;
}

// layout units are 3 to the pixel, so the scales run over 3 x the canvas size
const onPixel = v => Math.round(v / 3) * 3;
function graphChart(rect, nodes, edges, labels, look) {
  const node = ellipseImage(look.rx, look.ry, look.lw);
  const sets = [{ data: nodes.map(n => ({ x: onPixel(n[1]), y: onPixel(n[2]) })), pointStyle: node, pointRadius: 5, order: 0, showLine: false }];
  edges.forEach(e => {
    const n = e.p.length, a = e.p[n - 2], b = e.p[n - 1];
    const ang = Math.atan2(b[1] - a[1], b[0] - a[0]);
    const back = look.arrowLen * 3 / 2;
    sets.push({
      data: [{ x: b[0] - back * Math.cos(ang), y: b[1] - back * Math.sin(ang) }],
      pointStyle: arrowImage(look.arrowLen, look.arrowWid, look.arrowColor), pointRadius: 5, rotation: ang * 180 / Math.PI, order: 1, showLine: false
    });
    sets.push({ data: e.p.map(q => ({ x: q[0], y: q[1] })), showLine: true, borderColor: e.c, borderWidth: e.w, pointRadius: 0, tension: .4, order: 2, fill: false });
  });
  place(rect, { l: 0, r: 0, t: 0, b: 0 }, '', {
    type: 'scatter',
    data: { datasets: sets },
    options: { scales: {
      x: { display: false, min: 0, max: rect.w * 3 },
      y: { display: false, min: 0, max: rect.h * 3, reverse: true }
    } },
    plugins: [{
      id: 'graphText',
      afterDatasetsDraw(chart) {
        const g = chart.ctx, xs = chart.scales.x, ys = chart.scales.y;
        g.save();
        g.textAlign = 'center';
        g.textBaseline = 'middle';
        g.fillStyle = '#222';
        g.font = look.edgeFont;
        labels.forEach(l => g.fillText(l[0], xs.getPixelForValue(l[1]), ys.getPixelForValue(l[2])));
        g.fillStyle = '#000';
        g.font = look.nodeFont;
        nodes.forEach(n => g.fillText(n[0], xs.getPixelForValue(n[1]), ys.getPixelForValue(n[2]) + 1));
        g.restore();
      }
    }]
  });
}
graphChart({ x: 0, y: 790, w: 300, h: 442 }, graphENodes, graphEEdges, graphELabels,
  { rx: 53, ry: 28.5, lw: 1.4, arrowLen: 13, arrowWid: 10, arrowColor: '#000', edgeFont: '16px "Liberation Serif"', nodeFont: '21px "Noto Sans"' });
graphChart({ x: 290, y: 790, w: 424, h: 442 }, graphGNodes, graphGEdges, graphGLabels,
  { rx: 25, ry: 13.3, lw: .9, arrowLen: 6, arrowWid: 4.6, arrowColor: '#111', edgeFont: '7.2px "Liberation Sans"', nodeFont: '20px "Noto Sans"' });

// ---------- panel letters ----------
[['a', 4, 8.5], ['b', 333, 8.5], ['c', 332.7, 307], ['d', 4, 566], ['f', 357.3, 566], ['e', 4, 876], ['g', 291.7, 876.7]]
  .forEach(p => txt(p[0], p[1], p[2], 15, { family: 'Liberation Sans', color: '#111' }));
</script>
</body>
</html>
